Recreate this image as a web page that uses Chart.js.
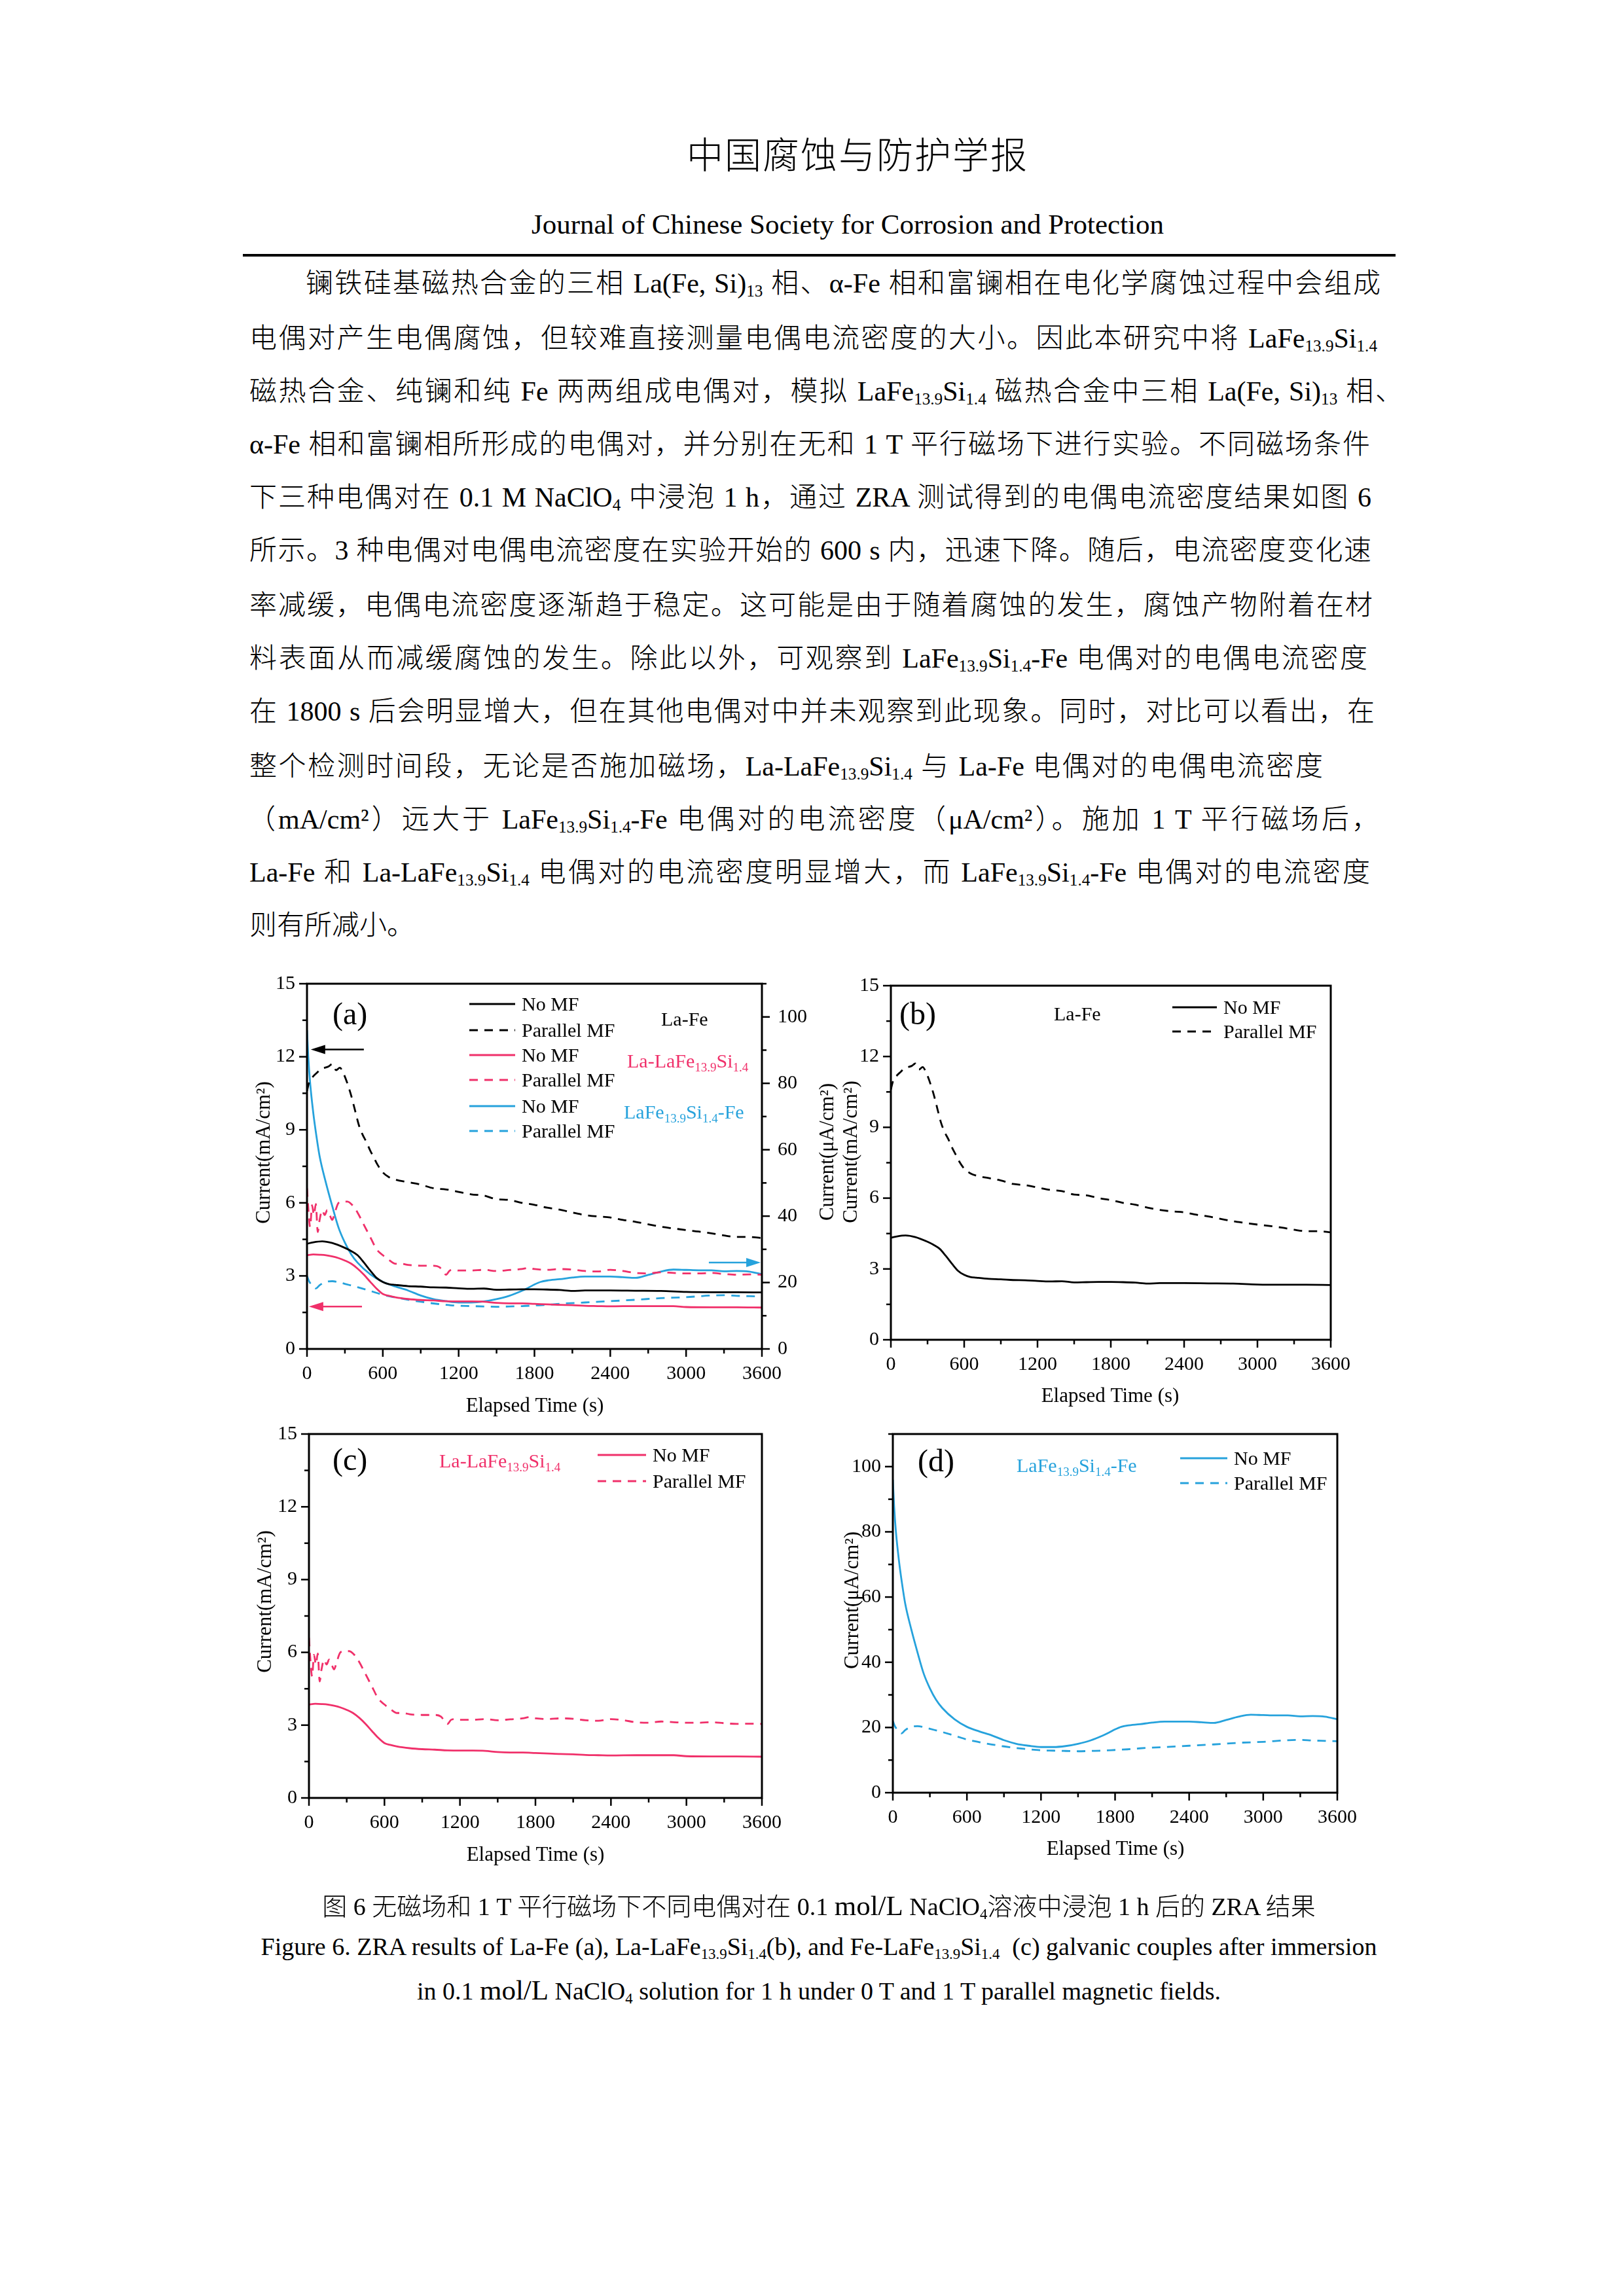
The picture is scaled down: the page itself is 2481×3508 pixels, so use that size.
<!DOCTYPE html>
<html>
<head>
<meta charset="utf-8">
<title>ZRA results</title>
<script src="https://cdn.jsdelivr.net/npm/chart.js@4.4.1/dist/chart.umd.min.js"></script>
<style>
  html, body { margin: 0; padding: 0; background: #fff; }
  #page { position: relative; width: 2481px; height: 3508px; background: #fff; overflow: hidden; }
  .abs { position: absolute; white-space: nowrap; color: #000; }
  .ln { position: absolute; height: 60px; line-height: 60px; font-size: 42px; font-weight: 300;
        font-family: "Liberation Serif", "Noto Sans CJK SC", serif;
        text-align: justify; text-align-last: justify; white-space: nowrap; }
  .s { font-size: 0.6em; vertical-align: -0.25em; line-height: 0; }
  .cap { position: absolute; left: 251px; width: 2000px; height: 56px; line-height: 56px;
         text-align: center; font-size: 38px; font-weight: 300; white-space: nowrap;
         font-family: "Liberation Serif", "Noto Sans CJK SC", serif; }
  .mol { font-size: 43px; }
  .panel { position: absolute; }
</style>
</head>
<body>
<div id="page">
  <div class="abs" style="left:1049px; top:203px; font-size:56px; line-height:60px; letter-spacing:2px; font-weight:300; font-family:'Noto Sans CJK SC';">中国腐蚀与防护学报</div>
  <div class="abs" style="left:295px; width:2000px; text-align:center; top:318px; font-size:43px; line-height:50px; font-family:'Liberation Serif';">Journal of Chinese Society for Corrosion and Protection</div>
  <div class="abs" style="left:371px; top:388px; width:1761px; height:4px; background:#000;"></div>

  <div class="ln" style="left:467px; width:1642px; top:403px;">镧铁硅基磁热合金的三相 La(Fe, Si)<span class="s">13</span> 相、α-Fe 相和富镧相在电化学腐蚀过程中会组成</div>
  <div class="ln" style="left:381px; width:1723px; top:487px;">电偶对产生电偶腐蚀，但较难直接测量电偶电流密度的大小。因此本研究中将 LaFe<span class="s">13.9</span>Si<span class="s">1.4</span></div>
  <div class="ln" style="left:381px; width:1762px; top:568px;">磁热合金、纯镧和纯 Fe 两两组成电偶对，模拟 LaFe<span class="s">13.9</span>Si<span class="s">1.4</span> 磁热合金中三相 La(Fe, Si)<span class="s">13</span> 相、</div>
  <div class="ln" style="left:381px; width:1712px; top:649px;">α-Fe 相和富镧相所形成的电偶对，并分别在无和 1 T 平行磁场下进行实验。不同磁场条件</div>
  <div class="ln" style="left:381px; width:1714px; top:730px;">下三种电偶对在 0.1 M NaClO<span class="s">4</span> 中浸泡 1 h，通过 ZRA 测试得到的电偶电流密度结果如图 6</div>
  <div class="ln" style="left:381px; width:1714px; top:811px;">所示。3 种电偶对电偶电流密度在实验开始的 600 s 内，迅速下降。随后，电流密度变化速</div>
  <div class="ln" style="left:381px; width:1716px; top:895px;">率减缓，电偶电流密度逐渐趋于稳定。这可能是由于随着腐蚀的发生，腐蚀产物附着在材</div>
  <div class="ln" style="left:381px; width:1708px; top:976px;">料表面从而减缓腐蚀的发生。除此以外，可观察到 LaFe<span class="s">13.9</span>Si<span class="s">1.4</span>-Fe 电偶对的电偶电流密度</div>
  <div class="ln" style="left:381px; width:1719px; top:1057px;">在 1800 s 后会明显增大，但在其他电偶对中并未观察到此现象。同时，对比可以看出，在</div>
  <div class="ln" style="left:381px; width:1640px; top:1141px;">整个检测时间段，无论是否施加磁场，La-LaFe<span class="s">13.9</span>Si<span class="s">1.4</span> 与 La-Fe 电偶对的电偶电流密度</div>
  <div class="ln" style="left:379px; width:1728px; top:1222px;">（mA/cm²）远大于 LaFe<span class="s">13.9</span>Si<span class="s">1.4</span>-Fe 电偶对的电流密度（μA/cm²）。施加 1 T 平行磁场后，</div>
  <div class="ln" style="left:381px; width:1712px; top:1303px;">La-Fe 和 La-LaFe<span class="s">13.9</span>Si<span class="s">1.4</span> 电偶对的电流密度明显增大，而 LaFe<span class="s">13.9</span>Si<span class="s">1.4</span>-Fe 电偶对的电流密度</div>
  <div class="ln" style="left:381px; width:600px; top:1384px; text-align:left; text-align-last:left;">则有所减小。</div>

  <div class="panel" id="wa"><canvas id="ca"></canvas></div>
  <div class="panel" id="wb"><canvas id="cb"></canvas></div>
  <div class="panel" id="wc"><canvas id="cc"></canvas></div>
  <div class="panel" id="wd"><canvas id="cd"></canvas></div>

  <div class="cap" style="top:2884px;">图 6 无磁场和 1 T 平行磁场下不同电偶对在 0.1 <span class="mol">mol/L</span> NaClO<span class="s">4</span>溶液中浸泡 1 h 后的 ZRA 结果</div>
  <div class="cap" style="top:2946px;">Figure 6. ZRA results of La-Fe (a), La-LaFe<span class="s">13.9</span>Si<span class="s">1.4</span>(b), and Fe-LaFe<span class="s">13.9</span>Si<span class="s">1.4</span>&nbsp; (c) galvanic couples after immersion</div>
  <div class="cap" style="top:3013px;">in 0.1 <span class="mol">mol/L</span> NaClO<span class="s">4</span> solution for 1 h under 0 T and 1 T parallel magnetic fields.</div>
</div>

<script>
  // La-Fe couple, mA/cm2
  const tLaFeNo = [0, 50, 120, 200, 300, 350, 400, 450, 500, 550, 600, 650, 700, 800, 900, 1000, 1100, 1200, 1300, 1400, 1500, 1600, 1700, 1800, 1900, 2000, 2100, 2200, 2400, 2600, 2800, 3000, 3200, 3400, 3600];
  const vLaFeNo = [4.32, 4.38, 4.42, 4.35, 4.15, 4.02, 3.85, 3.55, 3.22, 2.92, 2.75, 2.66, 2.63, 2.58, 2.56, 2.53, 2.52, 2.49, 2.47, 2.48, 2.43, 2.44, 2.45, 2.45, 2.44, 2.42, 2.38, 2.40, 2.40, 2.39, 2.38, 2.34, 2.33, 2.33, 2.32];
  const tLaFePar = [0, 20, 50, 80, 110, 140, 170, 200, 230, 260, 290, 320, 350, 380, 410, 440, 470, 500, 530, 560, 600, 650, 700, 800, 900, 1000, 1100, 1200, 1300, 1400, 1500, 1600, 1700, 1800, 1900, 2000, 2100, 2200, 2300, 2400, 2500, 2600, 2700, 2800, 2900, 3000, 3100, 3200, 3300, 3400, 3500, 3600];
  const vLaFePar = [10.6, 11.0, 11.2, 11.35, 11.5, 11.55, 11.6, 11.7, 11.45, 11.55, 11.3, 10.9, 10.4, 9.8, 9.2, 8.8, 8.5, 8.15, 7.85, 7.55, 7.25, 7.05, 6.95, 6.85, 6.75, 6.6, 6.55, 6.45, 6.35, 6.3, 6.15, 6.12, 6.0, 5.92, 5.8, 5.72, 5.6, 5.5, 5.44, 5.4, 5.3, 5.22, 5.12, 5.02, 4.95, 4.88, 4.82, 4.75, 4.66, 4.6, 4.6, 4.55];

  // La-LaFe13.9Si1.4 couple, mA/cm2
  const tLaLaNo = [0, 50, 100, 150, 200, 250, 300, 350, 400, 450, 500, 550, 600, 650, 700, 800, 900, 1000, 1100, 1200, 1300, 1400, 1500, 1600, 1700, 1800, 1900, 2000, 2100, 2200, 2300, 2400, 2600, 2800, 2900, 3000, 3200, 3400, 3600];
  const vLaLaNo = [3.85, 3.88, 3.87, 3.85, 3.80, 3.73, 3.63, 3.50, 3.30, 3.05, 2.76, 2.48, 2.26, 2.18, 2.12, 2.05, 2.01, 1.99, 1.96, 1.95, 1.95, 1.94, 1.89, 1.87, 1.87, 1.85, 1.83, 1.81, 1.80, 1.77, 1.76, 1.75, 1.76, 1.76, 1.76, 1.72, 1.71, 1.71, 1.70];
  const tLaLaPar = [0, 10, 25, 40, 55, 70, 85, 100, 120, 140, 160, 180, 200, 220, 250, 280, 320, 360, 400, 450, 500, 550, 600, 650, 700, 750, 800, 900, 1000, 1050, 1080, 1100, 1130, 1160, 1200, 1300, 1400, 1500, 1600, 1700, 1750, 1800, 1900, 2000, 2100, 2200, 2300, 2400, 2500, 2600, 2700, 2800, 2900, 3000, 3100, 3200, 3300, 3400, 3500, 3600];
  const vLaLaPar = [6.6, 5.8, 5.0, 5.9, 5.5, 5.95, 4.8, 5.3, 5.7, 5.5, 5.7, 5.5, 5.3, 5.6, 6.0, 6.05, 6.05, 5.9, 5.6, 5.1, 4.6, 4.1, 3.85, 3.65, 3.5, 3.5, 3.45, 3.42, 3.42, 3.35, 3.15, 3.05, 3.22, 3.25, 3.22, 3.22, 3.25, 3.2, 3.24, 3.28, 3.33, 3.28, 3.25, 3.28, 3.26, 3.20, 3.18, 3.25, 3.2, 3.12, 3.10, 3.15, 3.12, 3.10, 3.10, 3.12, 3.08, 3.05, 3.06, 3.05];

  // LaFe13.9Si1.4-Fe couple, uA/cm2
  const tFeNo = [0, 10, 25, 50, 75, 100, 150, 200, 250, 300, 350, 400, 500, 600, 700, 800, 900, 1000, 1100, 1200, 1300, 1400, 1500, 1600, 1700, 1750, 1800, 1850, 1900, 2000, 2100, 2200, 2300, 2400, 2500, 2600, 2700, 2800, 2900, 3000, 3100, 3200, 3300, 3400, 3500, 3600];
  const vFeNo = [96, 88, 80, 71, 64, 58, 50, 43, 36.5, 32, 28.5, 26, 22.5, 20.2, 18.8, 17.6, 16.1, 15.0, 14.4, 14.0, 14.0, 14.3, 15.0, 16.0, 17.5, 18.4, 19.4, 20.2, 20.6, 21.0, 21.5, 21.8, 21.8, 21.8, 21.6, 21.4, 22.3, 23.3, 23.9, 23.8, 23.7, 23.7, 23.4, 23.5, 23.3, 22.5];
  const tFePar = [0, 15, 40, 70, 100, 150, 200, 250, 300, 400, 500, 600, 700, 800, 900, 1000, 1100, 1200, 1300, 1400, 1500, 1600, 1700, 1800, 1900, 2000, 2200, 2400, 2600, 2800, 3000, 3200, 3300, 3400, 3500, 3600];
  const vFePar = [22, 20.5, 19.2, 18.2, 19.2, 20.2, 20.4, 20.1, 19.6, 18.6, 17.5, 16.3, 15.5, 14.8, 14.2, 13.7, 13.3, 13.0, 12.9, 12.8, 12.7, 12.8, 12.9, 13.1, 13.3, 13.6, 14.0, 14.4, 14.8, 15.3, 15.6, 16.1, 16.2, 16.0, 15.9, 15.8];

  const timeTicks = [0, 600, 1200, 1800, 2400, 3000, 3600];

  const BLACK = '#000000';
  const RED = '#f0306a';
  const BLUE = '#26a2dc';
  const FONT = '"Liberation Serif", "Times New Roman", serif';
  const DASH = [13, 10];

  function pts(t, v) { return t.map((x, i) => ({ x: x, y: v[i] })); }

  function line(label, t, v, color, dashed, axis) {
    return {
      label: label, data: pts(t, v), borderColor: color, borderWidth: 2.8,
      borderDash: dashed ? DASH : [], pointRadius: 0, fill: false,
      cubicInterpolationMode: 'monotone', yAxisID: axis || 'y'
    };
  }

  // draws text runs with subscripts, y is the visual middle of the text
  function drawRuns(ctx, runs, x, y, size, color, align) {
    const subSize = Math.round(size * 0.64);
    let w = 0;
    const parts = runs.map(r => {
      const sub = Array.isArray(r);
      const txt = sub ? r[0] : r;
      const f = (sub ? subSize : size) + 'px ' + FONT;
      ctx.font = f;
      const pw = ctx.measureText(txt).width;
      w += pw;
      return { txt, f, pw, sub };
    });
    let cx = align === 'center' ? x - w / 2 : x;
    const base = y + size * 0.33;
    ctx.fillStyle = color;
    ctx.textAlign = 'left';
    ctx.textBaseline = 'alphabetic';
    for (const p of parts) {
      ctx.font = p.f;
      ctx.fillText(p.txt, cx, p.sub ? base + size * 0.2 : base);
      cx += p.pw;
    }
  }

  const decor = {
    id: 'decor',
    afterDatasetsDraw(chart, args, o) {
      const ctx = chart.ctx, a = chart.chartArea;
      const ox = o.origin[0], oy = o.origin[1];
      ctx.save();
      ctx.strokeStyle = '#000';
      ctx.lineWidth = 3;
      ctx.setLineDash([]);
      ctx.strokeRect(a.left, a.top, a.right - a.left, a.bottom - a.top);
      ctx.lineWidth = 2.5;
      for (const t of o.ticks) {
        const s = chart.scales[t.axis];
        const n = Math.round((s.max - s.min) / t.minor);
        for (let k = 0; k <= n; k++) {
          const v = s.min + k * t.minor;
          const r = v / t.major;
          const len = Math.abs(r - Math.round(r)) < 1e-6 ? 12 : 7;
          const p = s.getPixelForValue(v);
          ctx.beginPath();
          if (t.side === 'bottom') { ctx.moveTo(p, a.bottom); ctx.lineTo(p, a.bottom + len); }
          else if (t.side === 'left') { ctx.moveTo(a.left, p); ctx.lineTo(a.left - len, p); }
          else { ctx.moveTo(a.right, p); ctx.lineTo(a.right + len, p); }
          ctx.stroke();
        }
      }
      // legend samples
      for (const it of o.legend || []) {
        const ds = chart.data.datasets[it.ds];
        ctx.strokeStyle = ds.borderColor;
        ctx.lineWidth = ds.borderWidth;
        ctx.setLineDash(ds.borderDash || []);
        ctx.beginPath();
        ctx.moveTo(it.x1 - ox, it.y - oy);
        ctx.lineTo(it.x2 - ox, it.y - oy);
        ctx.stroke();
        drawRuns(ctx, [ds.label], it.x2 + 10 - ox, it.y - oy, 30, '#000', 'left');
      }
      ctx.setLineDash([]);
      // arrows in data units
      for (const ar of o.arrows || []) {
        const xs = chart.scales.x, ys = chart.scales[ar.axis];
        const hx = xs.getPixelForValue(ar.head), tx = xs.getPixelForValue(ar.tail);
        const py = ys.getPixelForValue(ar.y);
        const dir = hx < tx ? 1 : -1;
        ctx.strokeStyle = ar.color;
        ctx.fillStyle = ar.color;
        ctx.lineWidth = 2.5;
        ctx.beginPath();
        ctx.moveTo(tx, py);
        ctx.lineTo(hx + dir * 14, py);
        ctx.stroke();
        ctx.beginPath();
        ctx.moveTo(hx, py);
        ctx.lineTo(hx + dir * 22, py - 7);
        ctx.lineTo(hx + dir * 22, py + 7);
        ctx.closePath();
        ctx.fill();
      }
      // texts
      for (const tx of o.texts || []) {
        ctx.save();
        if (tx.rot) {
          ctx.translate(tx.x - ox, tx.y - oy);
          ctx.rotate(-Math.PI / 2);
          drawRuns(ctx, tx.runs, 0, 0, tx.size, tx.color || '#000', 'center');
        } else {
          drawRuns(ctx, tx.runs, tx.x - ox, tx.y - oy, tx.size, tx.color || '#000', tx.align || 'left');
        }
        ctx.restore();
      }
      ctx.restore();
    }
  };

  const ML = 140, MR = 140, MT = 40, MB = 140;

  function makePanel(wrapId, canvasId, box, datasets, yOpt, y2Opt, extra) {
    const W = box.R - box.L + ML + MR, H = box.B - box.T + MT + MB;
    const ox = box.L - ML, oy = box.T - MT;
    const wrap = document.getElementById(wrapId);
    wrap.style.left = ox + 'px';
    wrap.style.top = oy + 'px';
    wrap.style.width = W + 'px';
    wrap.style.height = H + 'px';
    const cv = document.getElementById(canvasId);
    cv.width = W; cv.height = H;
    cv.style.width = W + 'px'; cv.style.height = H + 'px';

    const tickFont = { family: FONT, size: 30 };
    const plain = v => String(v);
    const scales = {
      x: {
        type: 'linear', min: 0, max: 3600,
        afterBuildTicks: s => { s.ticks = timeTicks.map(v => ({ value: v })); },
        ticks: { font: tickFont, color: '#000', padding: 20, maxRotation: 0, autoSkip: false, callback: plain },
        grid: { display: false, drawTicks: false }, border: { display: false },
        afterFit: s => { s.height = MB; }
      },
      y: {
        type: 'linear', position: 'left', min: yOpt.min, max: yOpt.max,
        ticks: { stepSize: yOpt.step, includeBounds: false, font: tickFont, color: '#000', padding: 18, callback: plain },
        grid: { display: false, drawTicks: false }, border: { display: false },
        afterFit: s => { s.width = ML; }
      }
    };
    const tickDefs = [
      { axis: 'x', major: 600, minor: 300, side: 'bottom' },
      { axis: 'y', major: yOpt.step, minor: yOpt.step / 2, side: 'left' }
    ];
    let padRight = MR;
    if (y2Opt) {
      scales.y2 = {
        type: 'linear', position: 'right', min: y2Opt.min, max: y2Opt.max,
        ticks: { stepSize: y2Opt.step, includeBounds: false, font: tickFont, color: '#000', padding: 24, callback: plain },
        grid: { display: false, drawTicks: false }, border: { display: false },
        afterFit: s => { s.width = MR; }
      };
      tickDefs.push({ axis: 'y2', major: y2Opt.step, minor: y2Opt.step / 2, side: 'right' });
      padRight = 0;
    }
    return new Chart(cv, {
      type: 'line',
      data: { datasets: datasets },
      options: {
        responsive: false, animation: false, devicePixelRatio: 1,
        layout: { padding: { top: MT, right: padRight, left: 0, bottom: 0 } },
        scales: scales,
        plugins: {
          legend: { display: false }, tooltip: { enabled: false },
          decor: Object.assign({ origin: [ox, oy], ticks: tickDefs }, extra)
        }
      },
      plugins: [decor]
    });
  }

  const sub = s => [s];
  const laLaLabel = ['La-LaFe', sub('13.9'), 'Si', sub('1.4')];
  const feLabel = ['LaFe', sub('13.9'), 'Si', sub('1.4'), '-Fe'];
  const elapsed = ['Elapsed Time (s)'];
  const curMA = ['Current(mA/cm²)'];
  const curUA = ['Current(μA/cm²)'];

  // (a) all three couples, LaFe-Fe on the right axis
  makePanel('wa', 'ca', { L: 469, R: 1164, T: 1501, B: 2061 }, [
    line('No MF', tLaFeNo, vLaFeNo, BLACK, false),
    line('Parallel MF', tLaFePar, vLaFePar, BLACK, true),
    line('No MF', tLaLaNo, vLaLaNo, RED, false),
    line('Parallel MF', tLaLaPar, vLaLaPar, RED, true),
    line('No MF', tFeNo, vFeNo, BLUE, false, 'y2'),
    line('Parallel MF', tFePar, vFePar, BLUE, true, 'y2')
  ], { min: 0, max: 15, step: 3 }, { min: 0, max: 110, step: 20 }, {
    legend: [
      { ds: 0, x1: 717, x2: 787, y: 1534 },
      { ds: 1, x1: 717, x2: 787, y: 1574 },
      { ds: 2, x1: 717, x2: 787, y: 1612 },
      { ds: 3, x1: 717, x2: 787, y: 1650 },
      { ds: 4, x1: 717, x2: 787, y: 1690 },
      { ds: 5, x1: 717, x2: 787, y: 1728 }
    ],
    arrows: [
      { axis: 'y', y: 12.3, head: 30, tail: 450, color: BLACK },
      { axis: 'y', y: 1.74, head: 15, tail: 435, color: RED },
      { axis: 'y2', y: 26, head: 3590, tail: 3180, color: BLUE }
    ],
    texts: [
      { x: 508, y: 1549, runs: ['(a)'], size: 48 },
      { x: 1010, y: 1557, runs: ['La-Fe'], size: 30 },
      { x: 958, y: 1621, runs: laLaLabel, size: 30, color: RED },
      { x: 953, y: 1699, runs: feLabel, size: 30, color: BLUE },
      { x: 402, y: 1761, runs: curMA, size: 31, rot: true },
      { x: 817, y: 2147, runs: elapsed, size: 31, align: 'center' }
    ]
  });

  // (b) La-Fe
  makePanel('wb', 'cb', { L: 1361, R: 2033, T: 1506, B: 2047 }, [
    line('No MF', tLaFeNo, vLaFeNo, BLACK, false),
    line('Parallel MF', tLaFePar, vLaFePar, BLACK, true)
  ], { min: 0, max: 15, step: 3 }, null, {
    legend: [
      { ds: 0, x1: 1791, x2: 1859, y: 1539 },
      { ds: 1, x1: 1791, x2: 1859, y: 1576 }
    ],
    texts: [
      { x: 1374, y: 1549, runs: ['(b)'], size: 48 },
      { x: 1610, y: 1549, runs: ['La-Fe'], size: 30 },
      { x: 1263, y: 1760, runs: curUA, size: 31, rot: true },
      { x: 1299, y: 1760, runs: curMA, size: 31, rot: true },
      { x: 1696, y: 2132, runs: elapsed, size: 31, align: 'center' }
    ]
  });

  // (c) La-LaFe13.9Si1.4
  makePanel('wc', 'cc', { L: 472, R: 1164, T: 2191, B: 2747 }, [
    line('No MF', tLaLaNo, vLaLaNo, RED, false),
    line('Parallel MF', tLaLaPar, vLaLaPar, RED, true)
  ], { min: 0, max: 15, step: 3 }, null, {
    legend: [
      { ds: 0, x1: 913, x2: 987, y: 2223 },
      { ds: 1, x1: 913, x2: 987, y: 2263 }
    ],
    texts: [
      { x: 508, y: 2230, runs: ['(c)'], size: 48 },
      { x: 671, y: 2232, runs: laLaLabel, size: 30, color: RED },
      { x: 404, y: 2447, runs: curMA, size: 31, rot: true },
      { x: 818, y: 2833, runs: elapsed, size: 31, align: 'center' }
    ]
  });

  // (d) LaFe13.9Si1.4-Fe
  makePanel('wd', 'cd', { L: 1364, R: 2043, T: 2191, B: 2739 }, [
    line('No MF', tFeNo, vFeNo, BLUE, false),
    line('Parallel MF', tFePar, vFePar, BLUE, true)
  ], { min: 0, max: 110, step: 20 }, null, {
    legend: [
      { ds: 0, x1: 1803, x2: 1875, y: 2228 },
      { ds: 1, x1: 1803, x2: 1875, y: 2266 }
    ],
    texts: [
      { x: 1402, y: 2232, runs: ['(d)'], size: 48 },
      { x: 1553, y: 2239, runs: feLabel, size: 30, color: BLUE },
      { x: 1301, y: 2445, runs: curUA, size: 31, rot: true },
      { x: 1704, y: 2824, runs: elapsed, size: 31, align: 'center' }
    ]
  });
</script>
</body>
</html>
